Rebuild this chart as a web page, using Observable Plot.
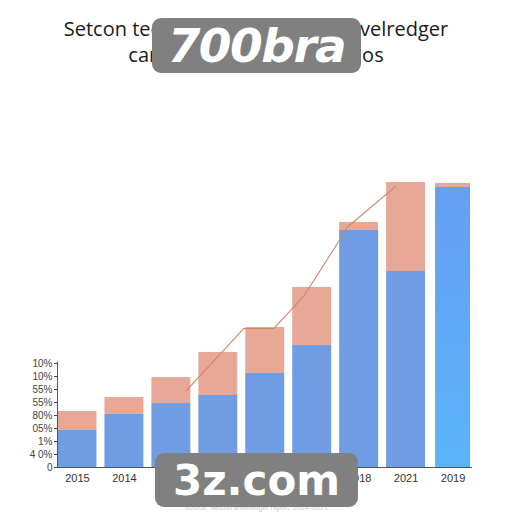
<!DOCTYPE html>
<html><head><meta charset="utf-8">
<script src="https://cdn.jsdelivr.net/npm/d3@7"></script>
<script src="https://cdn.jsdelivr.net/npm/@observablehq/plot@0.6"></script>
<style>
html,body{margin:0;padding:0;background:#fff;}
#wrap{position:relative;width:512px;height:512px;overflow:hidden;}
#chart{position:absolute;left:0;top:0;}
#title{position:absolute;left:0;top:16px;width:512px;text-align:center;font-family:"Open Sans",sans-serif;font-size:20px;line-height:26px;color:#1a1a1a;}
#foot{position:absolute;left:0;top:504px;width:512px;text-align:center;font-family:"Liberation Sans",sans-serif;font-size:7px;line-height:7px;color:#c8c8c8;}
.wm{position:absolute;background:#808080;border-radius:9px;color:#fff;display:flex;align-items:center;justify-content:center;font-family:"DejaVu Sans",sans-serif;font-weight:bold;}
</style></head>
<body>
<div id="wrap">
  <div id="chart"></div>
  <div id="title">Setcon technologys shares by levelredger<br>carbons and markets ratios</div>
  <div id="foot">Source: Setcon levelredger report, 2014–2021</div>
  <div class="wm" style="left:152px;top:18px;width:209px;height:55px;font-size:47px;font-style:italic;letter-spacing:-1.5px;">700bra</div>
  <div class="wm" style="left:155px;top:453px;width:203px;height:54px;font-size:42px;">3z.com</div>
</div>
<script>
// categories (x-axis labels, in picture order)
const years = ["2015","2014","2016","2017","2020","2022","2018","2021","2019"];
// lower (blue) segment values
const blueValues = [28.5, 40.8, 49.2, 55.4, 72.3, 93.8, 182.3, 150.8, 215.4];
// upper (salmon) segment values
const redValues = [14.6, 13.0, 20.0, 33.1, 35.4, 44.7, 6.2, 68.4, 3.1];
// trend line points (x in category units, y in value units)
const lineX = [2.82, 4.04, 4.68, 5.33, 5.97, 6.24, 7.28];
const lineY = [59.2, 106.9, 106.9, 132.3, 168.5, 184.6, 216.2];
// y-axis ticks and their printed labels
const yTicks = [0, 10, 20, 30, 40, 50, 60, 70, 80];
const yTickLabels = ["0", "4 0%", "1%", "05%", "80%", "55%", "55%", "10%", "10%"];

const rows = [];
years.forEach((yr, i) => {
  rows.push({i, year: yr, series: "blue", y1: 0, y2: blueValues[i]});
  rows.push({i, year: yr, series: "red", y1: blueValues[i], y2: blueValues[i] + redValues[i]});
});
const last = years.length - 1;
const linePts = lineX.map((x, k) => ({x, y: lineY[k]}));
const centers = years.map((_, i) => i + 0.5);

const plot = Plot.plot({
  width: 512,
  height: 512,
  marginLeft: 53.5,
  marginRight: 36,
  marginTop: 181,
  marginBottom: 45,
  style: {fontFamily: "Liberation Sans, sans-serif", background: "transparent"},
  x: {domain: [0, years.length], axis: null, label: null},
  y: {domain: [0, 220], axis: null, label: null},
  marks: [
    Plot.rect(rows.filter(d => d.i !== last), {
      x1: d => d.i, x2: d => d.i + 1, y1: "y1", y2: "y2",
      insetLeft: 4, insetRight: 4,
      fill: d => d.series === "blue" ? "#6f9ce3" : "#e8a898"
    }),
    Plot.rect(rows.filter(d => d.i === last && d.series === "red"), {
      x1: d => d.i, x2: d => d.i + 1, y1: "y1", y2: "y2",
      insetLeft: 6, insetRight: 6, fill: "#e8a898"
    }),
    Plot.rect(rows.filter(d => d.i === last && d.series === "blue"), {
      x1: d => d.i, x2: d => d.i + 1, y1: "y1", y2: "y2",
      insetLeft: 6, insetRight: 6, fill: "url(#bar9grad)"
    }),
    Plot.line(linePts, {x: "x", y: "y", stroke: "#cc8568", strokeWidth: 1.1}),
    Plot.ruleY([0], {insetLeft: 3.5, insetRight: 4, stroke: "#555"}),
    Plot.ruleX([0], {y1: 0, y2: 81, dx: 3.5, stroke: "#555"}),
    Plot.axisY(yTicks, {
      anchor: "left", dx: 3.5, tickSize: 3, tickPadding: 2, label: null,
      tickFormat: d => yTickLabels[yTicks.indexOf(d)],
      fontSize: 10, color: "#444"
    }),
    Plot.axisX(centers, {
      anchor: "bottom", tickSize: 0, tickPadding: 7, label: null,
      tickFormat: d => years[Math.floor(d)],
      fontSize: 11, color: "#333"
    })
  ]
});

const defs = d3.select(plot).insert("defs", ":first-child");
const g = defs.append("linearGradient").attr("id", "bar9grad")
  .attr("x1", 0).attr("y1", 0).attr("x2", 0).attr("y2", 1);
g.append("stop").attr("offset", "0%").attr("stop-color", "#669ff1");
g.append("stop").attr("offset", "100%").attr("stop-color", "#5ab4f8");

document.getElementById("chart").appendChild(plot);
</script>
</body></html>
